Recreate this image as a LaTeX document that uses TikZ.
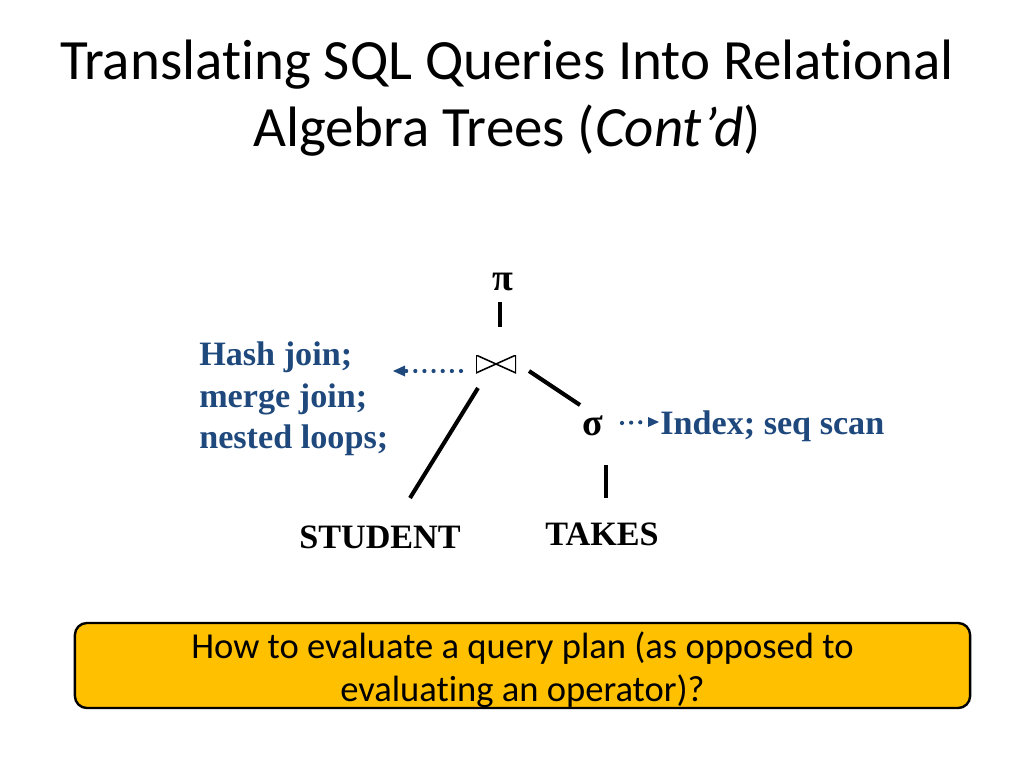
\documentclass[tikz,border=0pt]{standalone}
\usepackage{fontspec}
\setmainfont{Liberation Serif}
\newfontfamily\calibri{Carlito}[Ligatures=NoCommon]
\usetikzlibrary{arrows.meta}
\definecolor{notes}{HTML}{1F497D}
\definecolor{question}{HTML}{FFC000}

\begin{document}
\begin{tikzpicture}[
            x=0.025cm,
            y=-0.025cm,
            title/.style={font=\calibri\fontsize{40.5}{48}\selectfont, anchor=base, inner sep=0},
            op/.style={font=\bfseries\fontsize{27}{32}\selectfont, anchor=base, inner sep=0},
            rel/.style={font=\bfseries\fontsize{24.3}{29}\selectfont, anchor=base, inner sep=0},
            note/.style={font=\bfseries\fontsize{24.3}{29.2}\selectfont, text=notes, inner sep=0},
            joinop/.style={minimum width=1cm, minimum height=0.45cm, inner sep=0,
                path picture={
                    \draw[line width=1.1pt, line join=miter]
                        (path picture bounding box.north west) -- (path picture bounding box.center)
                        -- (path picture bounding box.south west) -- cycle
                        (path picture bounding box.north east) -- (path picture bounding box.center)
                        -- (path picture bounding box.south east) -- cycle;
                }},
            edge/.style={line width=2.9pt},
            impl/.style={notes, line width=3pt, line cap=round, dash pattern=on 0pt off 6.5pt},
            qbox/.style={draw, line width=1.7pt, fill=question, rounded corners=0.3cm,
                minimum width=22.375cm, minimum height=2.125cm, inner ysep=0, align=center,
                font=\calibri\fontsize{26}{30}\selectfont}
        ]
        \useasboundingbox (0,0) rectangle (1024,768);

        \node[title] (title1) at (507,80) {Translating SQL Queries Into Relational};
        \node[title] (title2) at (507,147) {Algebra Trees (\textit{Cont’d})};

        \node[op] (pi) at (503,290) {π};
        \node[joinop] (join) at (496,364) {};
        \node[op] (sigma) at (593,435) {σ};
        \node[rel] (student) at (380,548) {STUDENT};
        \node[rel] (takes) at (602,545) {TAKES};

        \node[note, anchor=north west, align=left] (algos) at (199,342) {Hash join;\\merge join;\\nested loops;};
        \node[note, anchor=base west] (scans) at (660,434) {Index; seq scan};

        \draw[edge] ([shift={(-3,12)}]pi.base) -- ([shift={(4,-37)}]join.center);
        \draw[edge] ([shift={(-18,24)}]join.center) -- ([shift={(30,-50)}]student.base);
        \draw[edge] ([shift={(33,7)}]join.center) -- ([shift={(-13,-30)}]sigma.base);
        \draw[edge] ([shift={(13,30)}]sigma.base) -- ([shift={(4,-47)}]takes.base);

        \draw[impl] ([shift={(-35,7)}]join.center) -- ([shift={(-91,7)}]join.center);
        \fill[notes] ([shift={(-91,1.5)}]join.center) -- ([shift={(-103,7)}]join.center) -- ([shift={(-91,12.5)}]join.center) -- cycle;
        \draw[impl] ([shift={(29,-12)}]sigma.base) -- ([shift={(-13,-12)}]scans.base west);
        \fill[notes] ([shift={(-12,-17)}]scans.base west) -- ([shift={(-1,-12)}]scans.base west) -- ([shift={(-12,-7)}]scans.base west) -- cycle;

        \node[qbox] (question) at (522.5,665.5) {\rule{0pt}{25pt}How to evaluate a query plan (as opposed to\\evaluating an operator)?};
    \end{tikzpicture}
\end{document}
